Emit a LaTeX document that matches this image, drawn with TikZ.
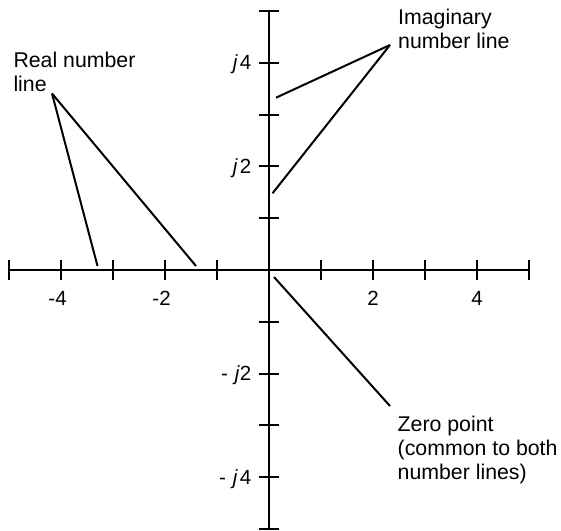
\documentclass[tikz,border=0pt]{standalone}
\usepackage{fontspec}
\setmainfont{Liberation Sans}
\begin{document}
\begin{tikzpicture}[x=1pt,y=-1pt,
  axis/.style={line width=2pt},
  tickmark/.style={line width=2pt},
  leader/.style={line width=2pt},
  ticklabel/.style={inner sep=0pt, font=\fontsize{20.5}{24}\selectfont},
  callout/.style={inner sep=0pt, align=left, anchor=north west, font=\fontsize{21.3}{24}\selectfont}]
\useasboundingbox (0,0) rectangle (561,530);
% axes
\coordinate (L) at (9,270);
\coordinate (R) at (529,270);
\coordinate (T) at (268.5,11);
\coordinate (B) at (268.5,529);
\draw[axis] (L) -- (R);
\draw[axis] (T) -- (B);
\foreach \i in {0,...,10} {
  \draw[tickmark] ({9+52*\i},260) -- ({9+52*\i},280);
  \draw[tickmark] (258.5,{11+51.8*\i}) -- (278.5,{11+51.8*\i});
}
% tick labels
\node[ticklabel, anchor=base] (xm4) at (61,305) {\llap{-}4};
\node[ticklabel, anchor=base] (xm2) at (165,305) {\llap{-}2};
\node[ticklabel, anchor=base] (xp2) at (373,305) {2};
\node[ticklabel, anchor=base] (xp4) at (477,305) {4};
\node[ticklabel, anchor=base east] (yp4) at (251.5,69.8) {\textit{j}\hspace{2pt}4};
\node[ticklabel, anchor=base east] (yp2) at (251.5,173.6) {\textit{j}\hspace{2pt}2};
\node[ticklabel, anchor=base east] (ym2) at (251.5,380.2) {-\hspace{7pt}\textit{j}2};
\node[ticklabel, anchor=base east] (ym4) at (251.5,484) {-\hspace{7pt}\textit{j}\hspace{2pt}4};
% callouts
\node[callout] (realtxt) at (13.3,52) {Real number\\line};
\node[callout] (imagtxt) at (398,9) {Imaginary\\number line};
\node[callout] (zerotxt) at (397.5,416) {Zero point\\(common to both\\number lines)};
% leader lines
\coordinate (realapex) at (52,93.5);
\coordinate (realA) at (97.5,266);
\coordinate (realB) at (196,266);
\draw[leader] (realapex) -- (realA);
\draw[leader] (realapex) -- (realB);
\coordinate (imagapex) at (390,45);
\coordinate (imagA) at (276,97.7);
\coordinate (imagB) at (272.5,193.3);
\draw[leader] (imagapex) -- (imagA);
\draw[leader] (imagapex) -- (imagB);
\coordinate (zeroA) at (274,277);
\coordinate (zeroapex) at (390,406);
\draw[leader] (zeroA) -- (zeroapex);
\end{tikzpicture}
\end{document}
